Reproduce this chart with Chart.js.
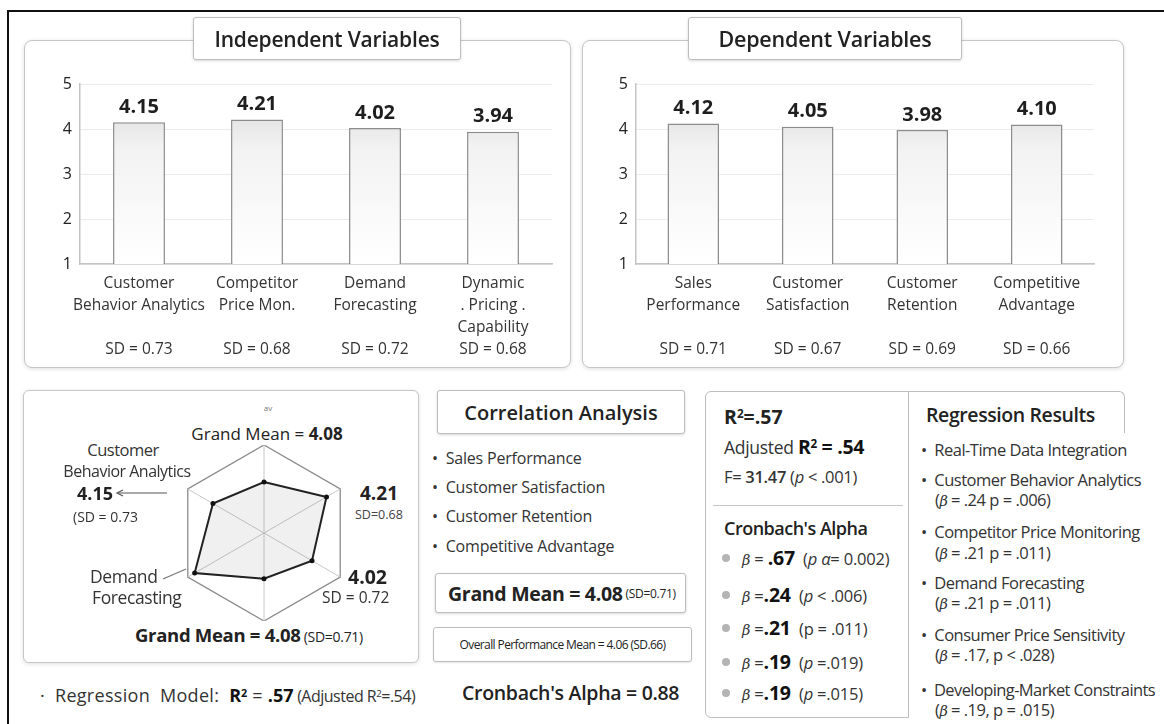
<!DOCTYPE html>
<html>
<head>
<meta charset="utf-8">
<script src="https://cdn.jsdelivr.net/npm/chart.js@4.4.1/dist/chart.umd.min.js"></script>
<style>
  html, body { margin: 0; padding: 0; background: #fff; }
  body { width: 1164px; height: 724px; position: relative; overflow: hidden; font-family: 'Open Sans', sans-serif; color: #222; }
  .frame { position: absolute; left: 7px; top: 10px; width: 1170px; height: 730px; border-top: 2.5px solid #111; border-left: 2.5px solid #111; }
  .panel { position: absolute; border: 1.5px solid #c6c6c6; border-radius: 8px; background: #fff; box-shadow: 0 1px 4px rgba(0,0,0,0.13); }
  .tbox { position: absolute; border: 1.5px solid #bdbdbd; border-radius: 3px; background: #fff; box-shadow: 0 1px 3px rgba(0,0,0,0.16);
          display: flex; align-items: center; justify-content: center; font-weight: 600; white-space: nowrap; z-index: 3; }
  .t { position: absolute; white-space: nowrap; line-height: 1; transform: translateY(-50%); z-index: 4; }
  .tc { position: absolute; white-space: nowrap; line-height: 1; transform: translate(-50%, -50%); z-index: 4; }
  canvas { position: absolute; z-index: 2; }
  .sup { font-size: 0.6em; position: relative; top: -0.5em; }
  .b { font-weight: 700; }
  .dot { position: absolute; width: 8px; height: 8px; border-radius: 50%; background: #b4b4b4; transform: translate(-50%, -50%); z-index: 4; }
  .beta { font-style: italic; font-family: 'DejaVu Serif', serif; font-size: 0.88em; }
  .rr { font-size: 16.5px; color: #333; letter-spacing: -0.5px; }
</style>
</head>
<body>
<div class="frame"></div>

<!-- top panels -->
<div class="panel" style="left:24px;top:40px;width:545px;height:326px;"></div>
<div class="tbox" style="left:193px;top:17px;width:266px;height:41px;font-size:21px;letter-spacing:-0.2px;">Independent Variables</div>
<canvas id="indepChart" width="530" height="300" style="left:30px;top:64px;"></canvas>

<div class="panel" style="left:582px;top:40px;width:540px;height:326px;"></div>
<div class="tbox" style="left:688px;top:17px;width:272px;height:41px;font-size:21.5px;letter-spacing:-0.2px;">Dependent Variables</div>
<canvas id="depChart" width="512" height="300" style="left:590px;top:64px;"></canvas>

<!-- radar panel -->
<div class="panel" style="left:23px;top:390px;width:394px;height:271px;border-radius:6px;"></div>
<canvas id="radarChart" width="176" height="176" style="left:176px;top:445px;"></canvas>
<div class="tc" style="left:268px;top:408px;font-size:8px;color:#777;">av</div>
<div class="tc" style="left:267px;top:433px;font-size:17px;">Grand Mean = <span class="b">4.08</span></div>
<div class="tc" style="left:123px;top:450px;font-size:16.5px;color:#333;letter-spacing:-0.5px;">Customer</div>
<div class="tc" style="left:127px;top:471px;font-size:16px;color:#333;letter-spacing:-0.5px;">Behavior Analytics</div>
<div class="t" style="left:77px;top:493px;font-size:18px;font-weight:700;">4.15</div>
<div class="t" style="left:73px;top:517px;font-size:14px;color:#333;">(SD = 0.73</div>
<div class="t" style="left:360px;top:493px;font-size:19px;font-weight:700;">4.21</div>
<div class="t" style="left:355px;top:515px;font-size:12.5px;color:#444;">SD=0.68</div>
<div class="t" style="left:90px;top:577px;font-size:17.5px;color:#333;letter-spacing:-0.4px;">Demand</div>
<div class="t" style="left:92px;top:598px;font-size:17.5px;color:#333;letter-spacing:-0.4px;">Forecasting</div>
<div class="t" style="left:348px;top:577px;font-size:19.5px;font-weight:700;">4.02</div>
<div class="t" style="left:322px;top:598px;font-size:15.5px;color:#333;">SD = 0.72</div>
<div class="t" style="left:135px;top:635px;font-size:18.5px;font-weight:700;letter-spacing:-0.3px;">Grand Mean = 4.08<span style="font-size:14px;font-weight:400;letter-spacing:-0.3px;"> (SD=0.71)</span></div>
<div class="t" style="left:40px;top:695px;font-size:18px;color:#333;letter-spacing:0.3px;">·&nbsp; Regression&nbsp; Model:&nbsp; <span class="b" style="color:#111;letter-spacing:0;">R<span class="sup">2</span></span> = <span class="b" style="color:#111;letter-spacing:0;">.57</span><span style="font-size:16px;letter-spacing:-0.5px;"> (Adjusted R<span class="sup">2</span>=.54)</span></div>

<!-- correlation column -->
<div class="tbox" style="left:437px;top:390px;width:246px;height:42px;font-size:20px;">Correlation Analysis</div>
<div class="t" style="left:432px;top:458px;font-size:16px;color:#333;letter-spacing:-0.2px;">•&nbsp;&nbsp;Sales Performance</div>
<div class="t" style="left:432px;top:487px;font-size:16px;color:#333;letter-spacing:-0.2px;">•&nbsp;&nbsp;Customer Satisfaction</div>
<div class="t" style="left:432px;top:516px;font-size:16px;color:#333;letter-spacing:-0.2px;">•&nbsp;&nbsp;Customer Retention</div>
<div class="t" style="left:432px;top:546px;font-size:16px;color:#333;letter-spacing:-0.2px;">•&nbsp;&nbsp;Competitive Advantage</div>
<div class="tbox" style="left:435px;top:573px;width:251px;height:40px;font-weight:400;justify-content:flex-start;padding-left:12px;box-sizing:border-box;">
  <span style="font-size:19.5px;font-weight:700;letter-spacing:-0.3px;">Grand Mean = 4.08</span><span style="font-size:12px;letter-spacing:-0.3px;">&nbsp;(SD=0.71)</span></div>
<div class="tbox" style="left:433px;top:627px;width:257px;height:33px;font-weight:400;font-size:12px;letter-spacing:-0.6px;box-shadow:0 1px 2px rgba(0,0,0,0.1);">Overall Performance Mean = 4.06 (SD.66)</div>
<div class="t" style="left:462px;top:693px;font-size:19.5px;font-weight:600;letter-spacing:-0.3px;">Cronbach's Alpha = 0.88</div>

<!-- regression box -->
<div style="position:absolute;left:705px;top:391px;width:202px;height:325px;border:1.5px solid #bdbdbd;border-radius:6px 0 0 6px;z-index:1;"></div>
<div style="position:absolute;left:907px;top:391px;width:217px;height:41px;border-top:1.5px solid #bdbdbd;border-right:1.5px solid #bdbdbd;border-radius:0 6px 0 0;z-index:1;"></div>
<div style="position:absolute;left:713px;top:505px;width:190px;height:0;border-top:1.5px solid #c4c4c4;z-index:1;"></div>

<div class="t" style="left:724px;top:417px;font-size:19.5px;font-weight:700;">R<span class="sup">2</span>=.57</div>
<div class="t" style="left:724px;top:447px;font-size:17.5px;color:#333;letter-spacing:-0.3px;">Adjusted <span style="font-weight:700;font-size:19.5px;color:#111;">R<span class="sup">2</span> = .54</span></div>
<div class="t" style="left:724px;top:477px;font-size:16.5px;color:#333;letter-spacing:-0.3px;">F= <span style="font-weight:600;">31.47</span> (<i>p</i> &lt; .001)</div>
<div class="t" style="left:724px;top:528px;font-size:18px;font-weight:600;letter-spacing:-0.5px;">Cronbach's Alpha</div>

<div class="dot" style="left:726px;top:558px;"></div>
<div class="t" style="left:742px;top:558px;font-size:16.5px;color:#333;letter-spacing:-0.2px;"><span class="beta">β</span> = <span class="b" style="font-size:19.5px;color:#111;">.67</span> &nbsp;(<i>p α</i>= 0.002)</div>
<div class="dot" style="left:726px;top:595px;"></div>
<div class="t" style="left:742px;top:595px;font-size:16.5px;color:#333;letter-spacing:-0.2px;"><span class="beta">β</span> =<span class="b" style="font-size:19.5px;color:#111;">.24</span> &nbsp;(<i>p</i> &lt; .006)</div>
<div class="dot" style="left:726px;top:628px;"></div>
<div class="t" style="left:742px;top:628px;font-size:16.5px;color:#333;letter-spacing:-0.2px;"><span class="beta">β</span> =<span class="b" style="font-size:19.5px;color:#111;">.21</span> &nbsp;(p = .011)</div>
<div class="dot" style="left:726px;top:662px;"></div>
<div class="t" style="left:742px;top:662px;font-size:16.5px;color:#333;letter-spacing:-0.2px;"><span class="beta">β</span> =<span class="b" style="font-size:19.5px;color:#111;">.19</span> &nbsp;(<i>p</i> =.019)</div>
<div class="dot" style="left:726px;top:693px;"></div>
<div class="t" style="left:742px;top:693px;font-size:16.5px;color:#333;letter-spacing:-0.2px;"><span class="beta">β</span> =<span class="b" style="font-size:19.5px;color:#111;">.19</span> &nbsp;(<i>p</i> =.015)</div>

<div class="t" style="left:926px;top:415px;font-size:19.5px;font-weight:600;letter-spacing:-0.4px;">Regression Results</div>
<div class="t rr" style="left:921px;top:450px;">•&nbsp; Real-Time Data Integration</div>
<div class="t rr" style="left:921px;top:480px;">•&nbsp; Customer Behavior Analytics</div>
<div class="t rr" style="left:935px;top:500px;">(<span class="beta">β</span> = .24 p = .006)</div>
<div class="t rr" style="left:921px;top:532px;">•&nbsp; Competitor Price Monitoring</div>
<div class="t rr" style="left:935px;top:553px;">(<span class="beta">β</span> = .21 p = .011)</div>
<div class="t rr" style="left:921px;top:583px;">•&nbsp; Demand Forecasting</div>
<div class="t rr" style="left:935px;top:603px;">(<span class="beta">β</span> = .21 p = .011)</div>
<div class="t rr" style="left:921px;top:635px;">•&nbsp; Consumer Price Sensitivity</div>
<div class="t rr" style="left:935px;top:655px;">(<span class="beta">β</span> = .17, p &lt; .028)</div>
<div class="t rr" style="left:921px;top:690px;letter-spacing:-0.6px;">•&nbsp; Developing-Market Constraints</div>
<div class="t rr" style="left:935px;top:710px;">(<span class="beta">β</span> = .19, p = .015)</div>

<svg width="1164" height="724" style="position:absolute;left:0;top:0;z-index:5;pointer-events:none;">
  <line x1="167" y1="493" x2="118" y2="493" stroke="#555" stroke-width="1.2"/>
  <polyline points="123,490 117,493 123,496" fill="none" stroke="#555" stroke-width="1.2"/>
  <line x1="163" y1="579" x2="186" y2="569" stroke="#777" stroke-width="1.2"/>
</svg>

<script>
// bar chart data
const indepCategories = [['Customer', 'Behavior Analytics'], ['Competitor', 'Price Mon.'], ['Demand', 'Forecasting'], ['Dynamic', '. Pricing .', 'Capability']];
const indepMeans = [4.15, 4.21, 4.02, 3.94];
const indepSDs = [0.73, 0.68, 0.72, 0.68];

const depCategories = [['Sales', 'Performance'], ['Customer', 'Satisfaction'], ['Customer', 'Retention'], ['Competitive', 'Advantage']];
const depMeans = [4.12, 4.05, 3.98, 4.10];
const depSDs = [0.71, 0.67, 0.69, 0.66];

const yTicks = [1, 2, 3, 4, 5];

// radar data (read from the polygon, outer ring = 5)
const radarAxes = ['Grand Mean', 'Competitor Price Mon.', 'Dynamic Pricing', 'Sales Performance', 'Demand Forecasting', 'Customer Behavior Analytics'];
const radarValues = [2.9, 4.1, 3.15, 2.6, 4.55, 3.35];

Chart.defaults.font.family = "'Open Sans', sans-serif";

// label lines: name lines, blank filler, then the SD line
function tickLabels(cats, sds) {
    return cats.map((lines, i) => {
        const out = lines.slice();
        while (out.length < 3) out.push('');
        out.push('SD = ' + sds[i].toFixed(2));
        return out;
    });
}

// bar value labels above each bar
const valueLabels = {
    id: 'valueLabels',
    afterDatasetsDraw(chart) {
        const ctx = chart.ctx;
        const ds = chart.data.datasets[0];
        ctx.save();
        ctx.font = "700 20px 'Open Sans'";
        ctx.fillStyle = '#1e1e1e';
        ctx.textAlign = 'center';
        ctx.textBaseline = 'middle';
        chart.getDatasetMeta(0).data.forEach((bar, i) => {
            ctx.fillText(ds.data[i].toFixed(2), bar.x, bar.y - 15);
        });
        ctx.restore();
    }
};

function barFill(c) {
    const chart = c.chart;
    const area = chart.chartArea;
    if (!area) return '#f2f2f2';
    const g = chart.ctx.createLinearGradient(0, area.top, 0, area.bottom);
    g.addColorStop(0, '#d4d4d4');
    g.addColorStop(0.35, '#f2f2f2');
    g.addColorStop(1, '#ffffff');
    return g;
}

function makeBarChart(id, cats, means, sds, yWidth, barPct, labelSize) {
    return new Chart(document.getElementById(id), {
        type: 'bar',
        data: {
            labels: tickLabels(cats, sds),
            datasets: [{
                data: means,
                backgroundColor: barFill,
                borderColor: '#8c8c8c',
                borderWidth: 1.5,
                borderSkipped: false,
                barPercentage: barPct,
                categoryPercentage: 1
            }]
        },
        options: {
            responsive: false,
            animation: false,
            layout: { padding: { top: 20, right: 8, left: 0, bottom: 0 } },
            plugins: { legend: { display: false }, tooltip: { enabled: false } },
            scales: {
                x: {
                    grid: { display: false, drawTicks: false },
                    border: { color: '#c4c4c4', width: 1.5 },
                    ticks: { color: '#333', font: { size: labelSize, lineHeight: 22 / labelSize }, padding: 9, maxRotation: 0, autoSkip: false },
                    afterFit: s => { s.height = 100; }
                },
                y: {
                    min: 1,
                    max: 5,
                    afterBuildTicks: s => { s.ticks = yTicks.map(v => ({ value: v })); },
                    grid: { color: '#ebebeb', drawTicks: false },
                    border: { color: '#c4c4c4', width: 1.5 },
                    ticks: { color: '#222', font: { size: 16 }, padding: 8 },
                    afterFit: s => { s.width = yWidth; }
                }
            }
        },
        plugins: [valueLabels]
    });
}

makeBarChart('indepChart', indepCategories, indepMeans, indepSDs, 50, 0.44, 15.5);
makeBarChart('depChart', depCategories, depMeans, depSDs, 46, 0.45, 15.5);

new Chart(document.getElementById('radarChart'), {
    type: 'radar',
    data: {
        labels: radarAxes,
        datasets: [{
            data: radarValues,
            borderColor: '#222',
            borderWidth: 2,
            backgroundColor: 'rgba(0,0,0,0.06)',
            fill: true,
            pointRadius: 2.5,
            pointBackgroundColor: '#111',
            pointBorderWidth: 0
        }]
    },
    options: {
        responsive: false,
        animation: false,
        plugins: { legend: { display: false }, tooltip: { enabled: false } },
        scales: {
            r: {
                min: 0,
                max: 5,
                ticks: { display: false, stepSize: 5 },
                pointLabels: { display: false },
                grid: { color: '#8a8a8a', lineWidth: 1.3 },
                angleLines: { color: '#c8c8c8', lineWidth: 1 }
            }
        }
    }
});
</script>
</body>
</html>
